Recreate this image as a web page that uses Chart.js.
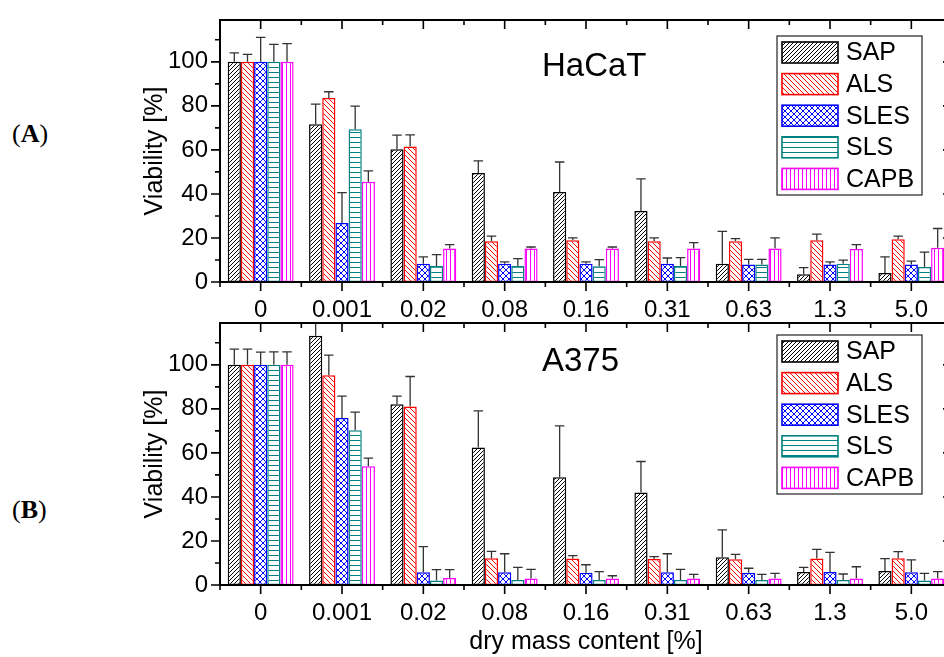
<!DOCTYPE html>
<html>
<head>
<meta charset="utf-8">
<script src="https://cdn.jsdelivr.net/npm/chart.js@4.4.1/dist/chart.umd.min.js"></script>
<style>
  html, body { margin: 0; padding: 0; background: #fff; }
  body { width: 944px; height: 657px; overflow: hidden; position: relative; }
  canvas { position: absolute; left: 140px; }
  #hacat { top: 0; }
  #a375 { top: 318px; }
  .tag { position: absolute; left: 12px; font: 26px "Liberation Serif", "Times New Roman", serif; line-height: 1; }
</style>
</head>
<body>
<div class="tag" style="top:121px">(<b>A</b>)</div>
<div class="tag" style="top:497px">(<b>B</b>)</div>
<canvas id="hacat" width="830" height="318"></canvas>
<canvas id="a375" width="830" height="339"></canvas>
<script>
// dose groups on the x axis and the five surfactants
const doses = ['0', '0.001', '0.02', '0.08', '0.16', '0.31', '0.63', '1.3', '5.0'];
const surfactants = ['SAP', 'ALS', 'SLES', 'SLS', 'CAPB'];
const yTicks = [0, 20, 40, 60, 80, 100];

// HaCaT viability, one row per surfactant
const hacatMeans = [
  [100, 71.7, 60.3, 49.5, 40.9, 32.3, 8.3, 3.5, 4.1],
  [100, 83.6, 61.5, 18.5, 19.0, 18.5, 18.5, 19.0, 19.4],
  [100, 26.8, 8.3, 8.3, 8.3, 8.3, 8.0, 8.0, 8.0],
  [100, 69.4, 7.3, 7.3, 7.1, 7.3, 7.9, 8.3, 6.8],
  [100, 45.5, 15.2, 15.2, 15.2, 15.2, 15.2, 15.0, 15.6]
];
const hacatErrors = [
  [4.1, 9.1, 6.4, 5.5, 13.6, 14.5, 14.7, 3.0, 7.3],
  [3.4, 2.8, 5.3, 2.3, 1.0, 1.5, 1.2, 2.7, 1.4],
  [11.1, 13.8, 3.1, 0.8, 0.8, 2.6, 2.3, 1.1, 1.5],
  [7.9, 10.5, 5.1, 3.3, 3.1, 3.8, 2.4, 1.6, 6.8],
  [8.3, 5.0, 1.8, 0.7, 0.7, 2.7, 4.8, 2.0, 8.7]
];

// A375 viability
const a375Means = [
  [100, 113.2, 82.1, 62.4, 48.9, 42.0, 12.6, 5.9, 6.4],
  [100, 95.3, 81.1, 12.1, 12.0, 11.8, 11.7, 12.0, 12.1],
  [100, 75.8, 5.8, 5.8, 5.6, 5.8, 5.6, 5.9, 5.8],
  [100, 70.3, 2.0, 2.3, 2.3, 2.3, 2.3, 2.3, 2.0],
  [100, 53.9, 3.2, 3.0, 3.0, 3.0, 3.0, 3.0, 3.0]
];
const a375Errors = [
  [7.1, 9.0, 3.7, 16.7, 23.4, 14.1, 12.4, 2.1, 5.6],
  [7.1, 9.1, 13.6, 3.2, 1.3, 1.1, 2.2, 4.2, 3.1],
  [5.8, 10.0, 11.6, 8.4, 3.6, 8.4, 2.0, 8.9, 5.6],
  [5.9, 8.2, 5.0, 5.7, 3.8, 4.8, 2.5, 2.7, 3.3],
  [5.9, 3.7, 3.8, 4.1, 1.2, 1.8, 2.3, 5.3, 3.1]
];

const colors = ['#000000', '#ff0000', '#0000ff', '#008080', '#ff00ff'];
const hatchKinds = [['fwd', 4], ['back', 5], ['cross', 6], ['horiz', 5], ['vert', 4]];

Chart.defaults.font.family = '"Liberation Sans", Arial, sans-serif';
Chart.defaults.color = '#000';

// small repeating tile -> canvas pattern
function hatch(kind, color, size) {
  const c = document.createElement('canvas');
  c.width = c.height = size;
  const g = c.getContext('2d');
  g.fillStyle = '#fff';
  g.fillRect(0, 0, size, size);
  g.strokeStyle = color;
  g.lineWidth = 1;
  g.beginPath();
  if (kind === 'fwd' || kind === 'cross') {
    g.moveTo(-1, size + 1); g.lineTo(size + 1, -1);
    g.moveTo(-1, 1); g.lineTo(1, -1);
    g.moveTo(size - 1, size + 1); g.lineTo(size + 1, size - 1);
  }
  if (kind === 'back' || kind === 'cross') {
    g.moveTo(-1, -1); g.lineTo(size + 1, size + 1);
    g.moveTo(size - 1, -1); g.lineTo(size + 1, 1);
    g.moveTo(-1, size - 1); g.lineTo(1, size + 1);
  }
  if (kind === 'horiz') { g.moveTo(0, Math.floor(size / 2) + 0.5); g.lineTo(size, Math.floor(size / 2) + 0.5); }
  if (kind === 'vert') { g.moveTo(Math.floor(size / 2) + 0.5, 0); g.lineTo(Math.floor(size / 2) + 0.5, size); }
  g.stroke();
  return g.createPattern(c, 'repeat');
}
const patterns = hatchKinds.map((h, i) => hatch(h[0], colors[i], h[1]));

// upper error bars with caps
const errorBars = {
  id: 'errorBars',
  afterDatasetsDraw(chart) {
    const { ctx, chartArea: a, scales: { y } } = chart;
    ctx.save();
    ctx.beginPath();
    ctx.rect(a.left, a.top, a.right - a.left, a.bottom - a.top);
    ctx.clip();
    ctx.strokeStyle = '#333';
    ctx.lineWidth = 1.3;
    chart.data.datasets.forEach((ds, i) => {
      chart.getDatasetMeta(i).data.forEach((bar, j) => {
        const top = y.getPixelForValue(ds.data[j] + ds.errors[j]);
        const half = bar.width * 0.36;
        ctx.beginPath();
        ctx.moveTo(bar.x, bar.y);
        ctx.lineTo(bar.x, top);
        ctx.moveTo(bar.x - half, top);
        ctx.lineTo(bar.x + half, top);
        ctx.stroke();
      });
    });
    ctx.restore();
  }
};

// boxed frame: ticks out on left/bottom, in on top/right
const frame = {
  id: 'frame',
  afterDraw(chart) {
    const { ctx, chartArea: a, scales: { x, y } } = chart;
    const seg = (x1, y1, x2, y2) => { ctx.moveTo(x1, y1); ctx.lineTo(x2, y2); };
    ctx.save();
    ctx.strokeStyle = '#000';
    ctx.lineWidth = 2;
    ctx.strokeRect(a.left, a.top, a.right - a.left, a.bottom - a.top);
    ctx.lineWidth = 1.6;
    ctx.beginPath();
    for (let v = 0; v <= 110; v += 10) {
      const py = y.getPixelForValue(v);
      const len = yTicks.includes(v) ? 9 : 5;
      seg(a.left - len, py, a.left, py);
      seg(a.right - len, py, a.right, py);
    }
    for (let i = 0; i < doses.length; i++) {
      const c = x.getPixelForValue(i);
      const b = x.getPixelForValue(i - 0.5);
      seg(c, a.bottom, c, a.bottom + 9);
      seg(c, a.top, c, a.top + 9);
      seg(b, a.bottom, b, a.bottom + 5);
      seg(b, a.top, b, a.top + 5);
    }
    ctx.stroke();
    ctx.restore();
  }
};

// cell line name and boxed key inside the plot
const panelKey = {
  id: 'panelKey',
  afterDraw(chart, args, opts) {
    const { ctx, chartArea: a } = chart;
    ctx.save();
    ctx.fillStyle = '#000';
    ctx.font = '33px "Liberation Sans", Arial, sans-serif';
    ctx.textAlign = 'left';
    ctx.textBaseline = 'middle';
    ctx.fillText(opts.name, a.left + 322, a.top + opts.nameDy);

    const bx = a.left + 557, by = a.top + opts.keyDy, bw = 145, bh = 159;
    ctx.fillStyle = '#fff';
    ctx.fillRect(bx, by, bw, bh);
    ctx.strokeStyle = '#222';
    ctx.lineWidth = 1.2;
    ctx.strokeRect(bx, by, bw, bh);
    ctx.font = '25px "Liberation Sans", Arial, sans-serif';
    surfactants.forEach((s, i) => {
      const cy = by + 16.5 + i * 31.6;
      ctx.fillStyle = patterns[i];
      ctx.fillRect(bx + 5, cy - 10.5, 56, 21);
      ctx.strokeStyle = colors[i];
      ctx.lineWidth = 1.6;
      ctx.strokeRect(bx + 5, cy - 10.5, 56, 21);
      ctx.fillStyle = '#000';
      ctx.fillText(s, bx + 69, cy + 1);
    });
    ctx.restore();
  }
};

// keep the plot box at fixed offsets: no extra room for edge labels
function noEdgePadding(s) {
  s.paddingTop = 0;
  s.paddingBottom = 0;
  s.paddingLeft = 0;
  s.paddingRight = 0;
}

function makePanel(canvas, means, errors, cfg) {
  return new Chart(canvas, {
    type: 'bar',
    data: {
      labels: doses,
      datasets: surfactants.map((s, i) => ({
        label: s,
        data: means[i],
        errors: errors[i],
        backgroundColor: patterns[i],
        borderColor: colors[i],
        borderWidth: 1.5,
        borderSkipped: false,
        categoryPercentage: 0.81,
        barPercentage: 1
      }))
    },
    options: {
      responsive: false,
      animation: false,
      layout: { padding: { top: cfg.padTop, right: 18, left: 0, bottom: 0 } },
      scales: {
        x: {
          grid: { display: false, drawTicks: false },
          border: { display: false },
          ticks: { font: { size: 24 }, padding: 14, maxRotation: 0, autoSkip: false },
          title: {
            display: !!cfg.xTitle,
            text: cfg.xTitle || '',
            font: { size: 25 },
            padding: { top: 0, bottom: 0 }
          },
          afterFit: s => { s.height = cfg.xHeight; noEdgePadding(s); }
        },
        y: {
          min: 0,
          max: 119,
          grid: { display: false, drawTicks: false },
          border: { display: false },
          ticks: {
            stepSize: 20,
            includeBounds: false,
            padding: 12,
            font: { size: 24 },
            callback: v => (yTicks.includes(v) ? v : '')
          },
          title: { display: true, text: 'Viability [%]', font: { size: 25 }, padding: 0 },
          afterFit: s => { s.width = 80; noEdgePadding(s); }
        }
      },
      plugins: {
        legend: { display: false },
        tooltip: { enabled: false },
        panelKey: { name: cfg.name, nameDy: cfg.nameDy, keyDy: cfg.keyDy }
      }
    },
    plugins: [errorBars, frame, panelKey]
  });
}

makePanel(document.getElementById('hacat'), hacatMeans, hacatErrors,
  { name: 'HaCaT', nameDy: 47, keyDy: 16, padTop: 20, xHeight: 36 });
makePanel(document.getElementById('a375'), a375Means, a375Errors,
  { name: 'A375', nameDy: 39, keyDy: 12, padTop: 5, xHeight: 72, xTitle: 'dry mass content [%]' });
</script>
</body>
</html>
